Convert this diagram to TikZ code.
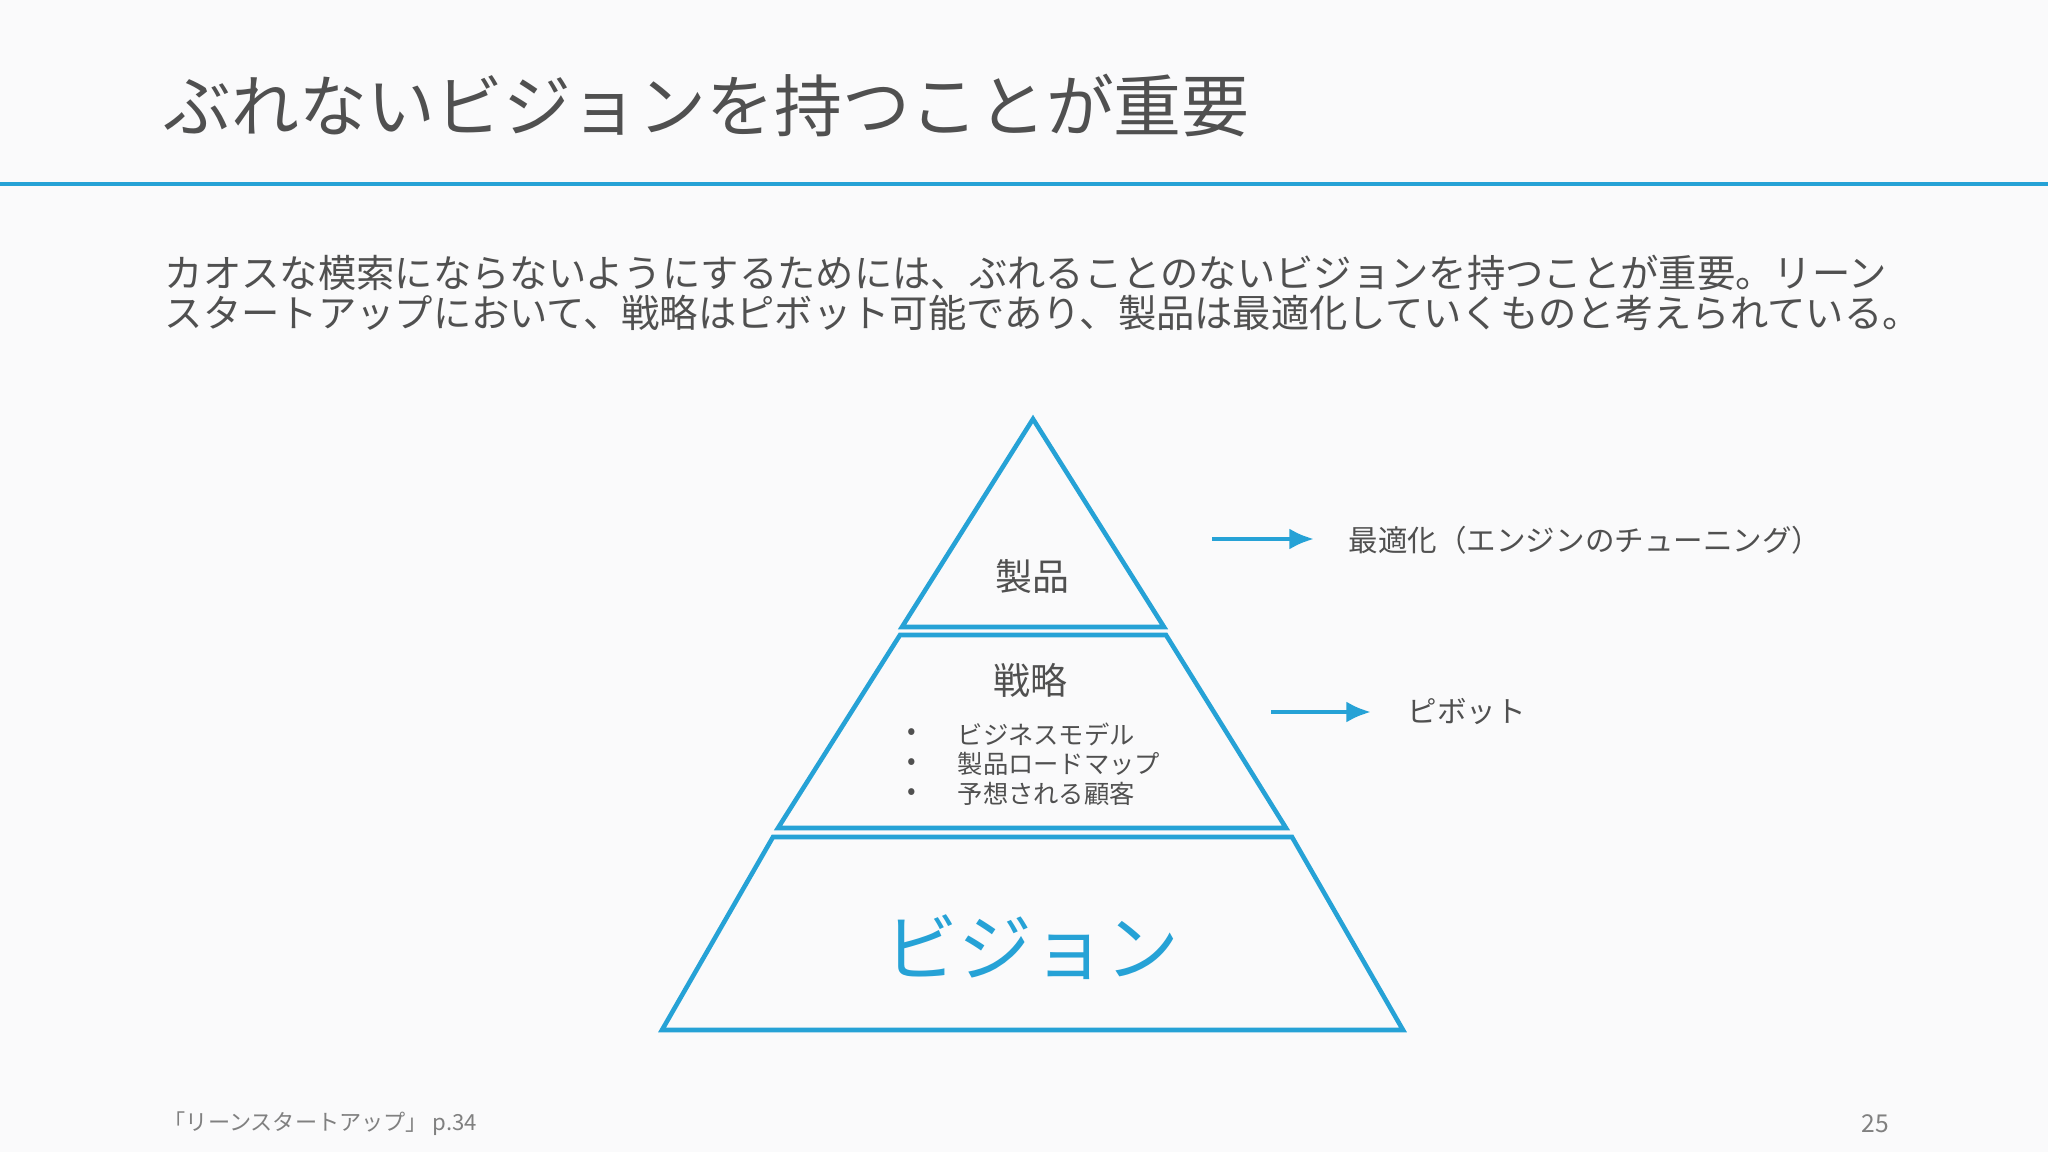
\documentclass[tikz,border=0pt]{standalone}
\usepackage{fontspec}
\setmainfont{Noto Sans CJK JP}
\definecolor{bl}{RGB}{38,162,214}
\definecolor{tx}{RGB}{80,80,80}
\definecolor{bg}{RGB}{250,250,251}
\begin{document}
\begin{tikzpicture}[x=0.01cm,y=-0.01cm,
  tier/.style={draw=bl,line width=1.3pt},
  lab/.style={text=tx,inner sep=0},
  arr/.style={draw=bl,line width=1.2pt,-{Latex[length=7pt,width=6pt]}}]
\usetikzlibrary{arrows.meta}
\fill[bg] (0,0) rectangle (2048,1152);
\useasboundingbox (0,0) rectangle (2048,1152);
\node[lab,anchor=west,font=\fontsize{19.3pt}{22pt}\selectfont] (title) at (163,106) {ぶれないビジョンを持つことが重要};
\coordinate (l1) at (0,184); \coordinate (l2) at (2048,184);
\draw[bl,line width=1.2pt] (l1) -- (l2);
\node[lab,anchor=west,font=\fontsize{10.9pt}{13pt}\selectfont] (b1) at (164,273) {カオスな模索にならないようにするためには、ぶれることのないビジョンを持つことが重要。リーン};
\node[lab,anchor=west,font=\fontsize{10.9pt}{13pt}\selectfont] (b2) at (164,313) {スタートアップにおいて、戦略はピボット可能であり、製品は最適化していくものと考えられている。};
\draw[tier] (1033,419) -- (1164,627) -- (902,627) -- cycle;
\draw[tier] (900,635) -- (1166,635) -- (1286,828) -- (778,828) -- cycle;
\draw[tier] (773,837) -- (1292,837) -- (1403,1030) -- (662,1030) -- cycle;
\node[lab,font=\fontsize{10.5pt}{12pt}\selectfont] (p) at (1032,577) {製品};
\node[lab,font=\fontsize{10.5pt}{12pt}\selectfont] (s) at (1030,680) {戦略};
\foreach \t/\y/\n in {ビジネスモデル/734/a,製品ロードマップ/764/b,予想される顧客/794/c}{
  \node[lab,font=\fontsize{7.2pt}{9pt}\selectfont] (d\n) at (912,\y) {•};
  \node[lab,anchor=west,font=\fontsize{7.2pt}{9pt}\selectfont] (i\n) at (957,\y) {\t};
}
\node[inner sep=0,text=bl,font=\fontsize{21pt}{24pt}\selectfont] (v) at (1032,947) {ビジョン};
\coordinate (a1) at (1212,539); \coordinate (a2) at (1314,539);
\draw[arr] (a1) -- (a2);
\node[lab,anchor=west,font=\fontsize{8.4pt}{10pt}\selectfont] (o) at (1348,540) {最適化（エンジンのチューニング）};
\coordinate (c1) at (1271,712); \coordinate (c2) at (1371,712);
\draw[arr] (c1) -- (c2);
\node[lab,anchor=west,font=\fontsize{8.4pt}{10pt}\selectfont] (pv) at (1407,712) {ピボット};
\node[lab,anchor=west,text=gray,font=\fontsize{6.3pt}{8pt}\selectfont] (f) at (163,1124) {「リーンスタートアップ」 p.34};
\node[lab,anchor=east,text=gray,font=\fontsize{7pt}{8pt}\selectfont] (n) at (1890,1124) {25};
\end{tikzpicture}
\end{document}
